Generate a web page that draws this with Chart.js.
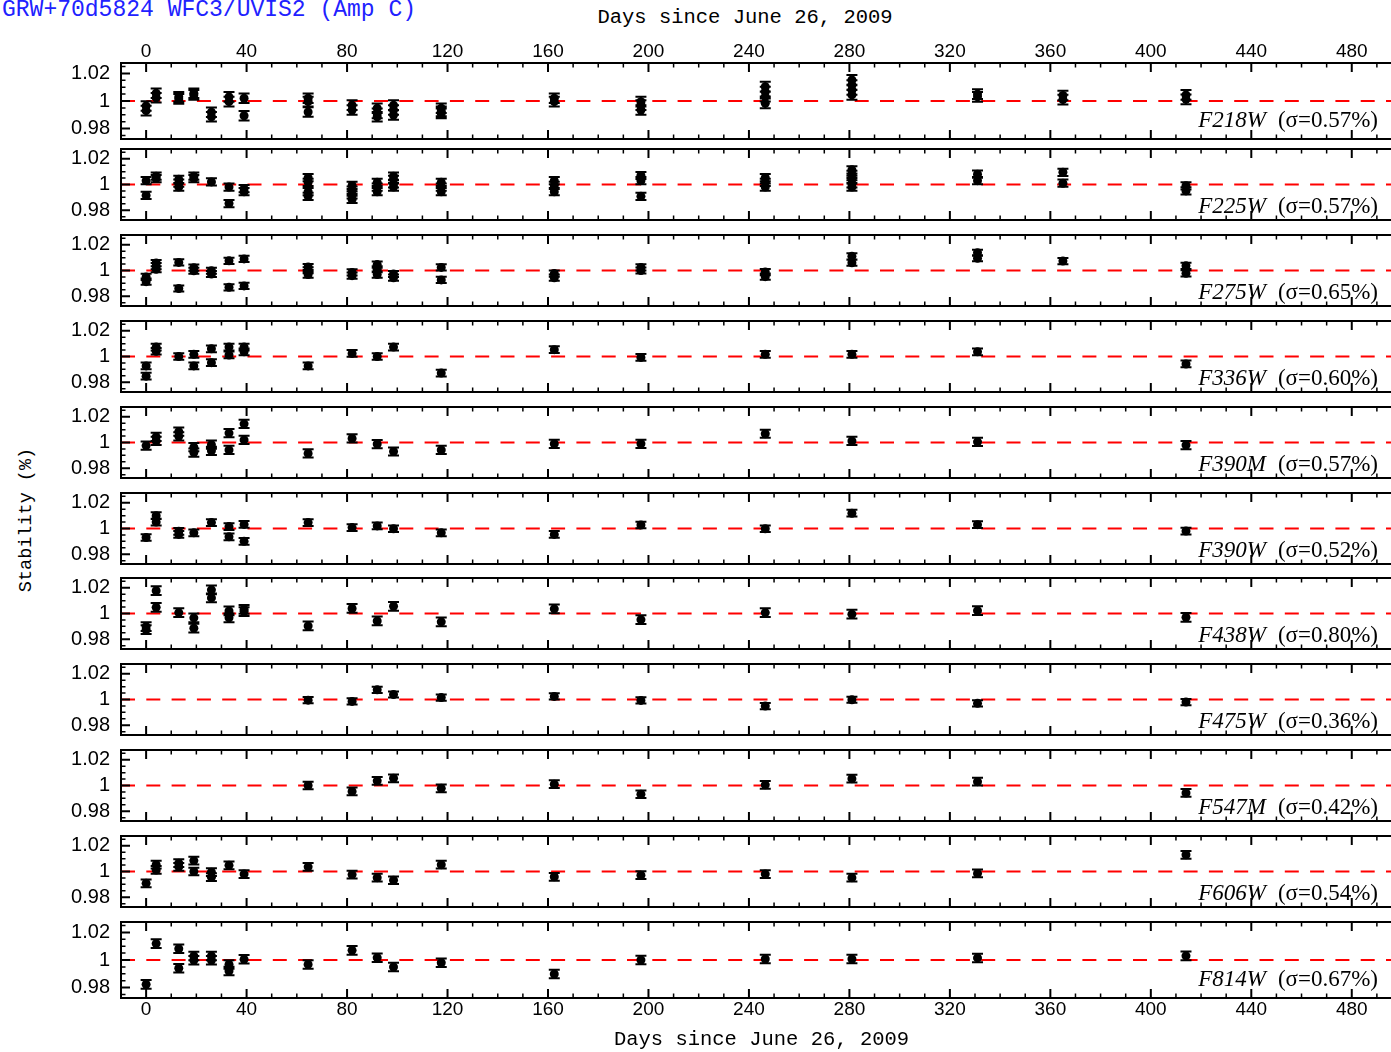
<!DOCTYPE html>
<html>
<head>
<meta charset="utf-8">
<title>GRW+70d5824 WFC3/UVIS2 (Amp C)</title>
<script src="https://cdn.jsdelivr.net/npm/chart.js@4.4.1/dist/chart.umd.min.js"></script>
<style>
  html, body { margin: 0; padding: 0; background: #fff; }
  body { width: 1391px; height: 1052px; overflow: hidden; position: relative; }
  canvas.panel { position: absolute; left: 0; }
  .txt { position: absolute; white-space: nowrap; color: #000; }
  #mainTitle { left: 2px; top: -1px; font: 23px 'Liberation Mono', monospace; line-height: 23px; color: #2121ff; }
  #topTitle { left: 745px; top: 6px; transform: translateX(-50%); font: 20.5px 'Liberation Mono', monospace; line-height: 24px; }
  #yTitle { left: 27px; top: 520px; transform: translate(-50%, -50%) rotate(-90deg); font: 18.5px 'Liberation Mono', monospace; line-height: 22px; }
  .filterLabel { right: 13px; font: 23px 'Liberation Serif', serif; line-height: 23px; transform: translateY(-50%); z-index: 2; }
  .filterLabel i { margin-right: 12px; }
</style>
</head>
<body>
<div class="txt" id="mainTitle">GRW+70d5824 WFC3/UVIS2 (Amp C)</div>
<div class="txt" id="topTitle">Days since June 26, 2009</div>
<div class="txt" id="yTitle">Stability (%)</div>
<script>
// filtres, sigma affichés et barre d'erreur typique de chaque filtre
const filterNames = ['F218W', 'F225W', 'F275W', 'F336W', 'F390M', 'F390W', 'F438W', 'F475W', 'F547M', 'F606W', 'F814W'];
const filterSigmas = ['0.57', '0.57', '0.65', '0.60', '0.57', '0.52', '0.80', '0.36', '0.42', '0.54', '0.67'];
const filterErrors = [0.0035, 0.0028, 0.0024, 0.0026, 0.0032, 0.0026, 0.0034, 0.0024, 0.003, 0.003, 0.0031];

const xTickValues = [0, 40, 80, 120, 160, 200, 240, 280, 320, 360, 400, 440, 480];
const yTickValues = [0.98, 1, 1.02];
const yTickLabels = ['0.98', '1', '1.02'];

// données (jours, stabilité)
const f218wDays = [0, 0, 4, 4, 13, 13, 19, 19, 26, 26, 33, 33, 39, 39, 64.5, 64.5, 64.5, 82, 82, 92, 92, 92, 98.5, 98.5, 98.5, 117.5, 117.5, 117.5, 162.5, 162.5, 197, 197, 197, 246.5, 246.5, 246.5, 246.5, 281, 281, 281, 281, 331, 331, 365, 365, 414, 414];
const f218wStability = [0.9964, 0.993, 1.0056, 1.0024, 1.003, 1.0015, 1.0056, 1.0044, 0.9918, 0.9886, 1.003, 0.9995, 1.002, 0.9893, 1.002, 0.9995, 0.992, 0.997, 0.9935, 0.9947, 0.991, 0.9886, 0.997, 0.9935, 0.9898, 0.9947, 0.991, 0.9925, 1.002, 0.9995, 0.9995, 0.997, 0.9935, 1.0104, 1.0068, 1.0032, 0.9983, 1.0153, 1.0116, 1.008, 1.0044, 1.005, 1.003, 1.004, 1.001, 1.0044, 1.0012];

const f225wDays = [0, 0, 4, 4, 13, 13, 13, 19, 19, 26, 33, 33, 39, 39, 64.5, 64.5, 64.5, 64.5, 82, 82, 82, 82, 92, 92, 92, 98.5, 98.5, 98.5, 98.5, 117.5, 117.5, 117.5, 162.5, 162.5, 162.5, 197, 197, 197, 246.5, 246.5, 246.5, 281, 281, 281, 281, 281, 331, 331, 365, 365, 414, 414];
const f225wStability = [1.003, 0.9915, 1.0065, 1.0046, 1.004, 1.001, 0.998, 1.0065, 1.0046, 1.002, 0.998, 0.9852, 0.9968, 0.9944, 1.0053, 1.0017, 0.9944, 0.9908, 0.9993, 0.9956, 0.992, 0.9884, 1.0017, 0.998, 0.9944, 1.0065, 1.004, 1.0005, 0.998, 1.0017, 0.998, 0.9944, 1.003, 0.9993, 0.9944, 1.007, 1.003, 0.9908, 1.0053, 1.0017, 0.998, 1.0114, 1.0078, 1.004, 1.0005, 0.998, 1.008, 1.003, 1.0095, 1.001, 0.999, 0.995];

const f275wDays = [0, 0, 4, 4, 4, 13, 13, 19, 19, 26, 26, 33, 33, 39, 39, 64.5, 64.5, 64.5, 82, 82, 92, 92, 92, 98.5, 98.5, 117.5, 117.5, 162.5, 162.5, 197, 197, 246.5, 246.5, 281, 281, 331, 331, 365, 414, 414];
const f275wStability = [0.995, 0.9913, 1.0058, 1.0034, 1.001, 1.0063, 0.986, 1.0022, 0.9998, 0.9998, 0.9973, 1.0075, 0.9869, 1.009, 0.988, 1.0027, 1.0002, 0.9968, 0.9985, 0.996, 1.0046, 1.001, 0.9968, 0.9973, 0.9944, 1.0024, 0.9927, 0.9976, 0.9944, 1.0024, 1.0, 0.9988, 0.9952, 1.011, 1.006, 1.0138, 1.0095, 1.0073, 1.0036, 0.9978];

const f336wDays = [0, 0, 4, 4, 13, 19, 19, 26, 26, 33, 33, 39, 39, 64.5, 82, 92, 98.5, 117.5, 162.5, 197, 246.5, 281, 331, 414];
const f336wStability = [0.9927, 0.9847, 1.0073, 1.0041, 1.0, 1.0017, 0.9927, 1.006, 0.9952, 1.0073, 1.0012, 1.0073, 1.0036, 0.9927, 1.0024, 1.0, 1.0073, 0.9871, 1.0053, 0.9993, 1.0017, 1.0017, 1.0036, 0.9942];

const f390mDays = [0, 4, 4, 13, 13, 19, 19, 26, 26, 33, 33, 39, 39, 64.5, 82, 92, 98.5, 117.5, 162.5, 197, 246.5, 281, 331, 414];
const f390mStability = [0.9976, 1.0044, 1.0012, 1.0085, 1.0048, 0.9964, 0.9922, 0.9983, 0.9935, 1.0073, 0.9942, 1.0145, 1.002, 0.9915, 1.0032, 0.9988, 0.993, 0.9942, 0.999, 0.999, 1.0068, 1.0012, 1.0005, 0.998];

const f390wDays = [0, 4, 4, 13, 13, 19, 26, 33, 33, 39, 39, 64.5, 82, 92, 98.5, 117.5, 162.5, 197, 246.5, 281, 331, 414];
const f390wStability = [0.993, 1.01, 1.005, 0.9978, 0.9954, 0.9966, 1.0046, 1.0015, 0.9935, 1.0032, 0.99, 1.0046, 1.0007, 1.002, 0.9998, 0.9966, 0.9954, 1.0027, 0.9998, 1.0119, 1.003, 0.998];

const f438wDays = [0, 0, 4, 4, 13, 19, 19, 26, 26, 33, 33, 39, 39, 64.5, 82, 92, 98.5, 117.5, 162.5, 197, 246.5, 281, 331, 414];
const f438wStability = [0.9898, 0.9874, 1.0177, 1.0048, 1.0007, 0.9966, 0.9886, 1.0184, 1.0121, 1.002, 0.9966, 1.0032, 1.0015, 0.9903, 1.0039, 0.9942, 1.0056, 0.9935, 1.0036, 0.9952, 1.0007, 0.9995, 1.0022, 0.997];

const f475wDays = [64.5, 82, 92, 98.5, 117.5, 162.5, 197, 246.5, 281, 331, 414];
const f475wStability = [0.9995, 0.9985, 1.0075, 1.0039, 1.0015, 1.0024, 0.9993, 0.9949, 0.9998, 0.997, 0.998];

const f547mDays = [64.5, 82, 92, 98.5, 117.5, 162.5, 197, 246.5, 281, 331, 414];
const f547mStability = [1.0, 0.9954, 1.0036, 1.0056, 0.9978, 1.001, 0.9932, 1.0005, 1.0053, 1.003, 0.9942];

const f606wDays = [0, 4, 4, 13, 13, 19, 19, 26, 26, 33, 39, 64.5, 82, 92, 98.5, 117.5, 162.5, 197, 246.5, 281, 331, 414];
const f606wStability = [0.9908, 1.0053, 1.0012, 1.0065, 1.0036, 1.0085, 1.0, 0.9995, 0.9956, 1.0048, 0.998, 1.0036, 0.9976, 0.9952, 0.9932, 1.0053, 0.9959, 0.9971, 0.998, 0.9952, 0.9985, 1.013];

const f814wDays = [0, 4, 13, 13, 19, 19, 26, 26, 33, 33, 39, 64.5, 82, 92, 98.5, 117.5, 162.5, 197, 246.5, 281, 331, 414];
const f814wStability = [0.9823, 1.0119, 1.0082, 0.994, 1.0029, 0.9998, 1.0029, 0.9998, 0.9968, 0.992, 1.0005, 0.9968, 1.007, 1.0017, 0.9949, 0.998, 0.9898, 1.0, 1.0007, 1.0007, 1.0015, 1.003];

const panelDays = [f218wDays, f225wDays, f275wDays, f336wDays, f390mDays, f390wDays, f438wDays, f475wDays, f547mDays, f606wDays, f814wDays];
const panelStability = [f218wStability, f225wStability, f275wStability, f336wStability, f390mStability, f390wStability, f438wStability, f475wStability, f547mStability, f606wStability, f814wStability];

// mise en page
const PAGE_H = 1052;
const CANVAS_W = 1410;
const PLOT_LEFT = 121;
const PLOT_RIGHT = 1402;
const PANEL_TOP = 63;
const PANEL_PITCH = 85.9;
const PANEL_H = 76;
const EDGE = 5;
const X_MIN = -10, X_MAX = 500;
const Y_MIN = 0.9724, Y_MAX = 1.0276;

Chart.defaults.color = '#000';
Chart.defaults.font.family = "'Liberation Sans', sans-serif";

// barres d'erreur avec petits chapeaux
const errorBars = {
    id: 'errorBars',
    afterDatasetsDraw(chart) {
        const {ctx, scales: {x, y}} = chart;
        ctx.save();
        ctx.strokeStyle = '#000';
        ctx.lineWidth = 2;
        chart.data.datasets.forEach(ds => {
            if (!ds.errorBar) return;
            ctx.beginPath();
            ds.data.forEach(p => {
                const px = x.getPixelForValue(p.x);
                const top = y.getPixelForValue(p.y + ds.errorBar);
                const bottom = y.getPixelForValue(p.y - ds.errorBar);
                ctx.moveTo(px, top); ctx.lineTo(px, bottom);
                ctx.moveTo(px - 5.5, top); ctx.lineTo(px + 5.5, top);
                ctx.moveTo(px - 5.5, bottom); ctx.lineTo(px + 5.5, bottom);
            });
            ctx.stroke();
        });
        ctx.restore();
    }
};

// cadre du panneau et graduations vers l'intérieur
const panelFrame = {
    id: 'panelFrame',
    afterDraw(chart) {
        const {ctx, chartArea: a, scales: {x, y}} = chart;
        ctx.save();
        ctx.strokeStyle = '#000';

        for (let d = 0; d < X_MAX; d += 10) {
            const px = x.getPixelForValue(d);
            const major = d % 40 === 0;
            const len = major ? 9 : 4.5;
            ctx.lineWidth = major ? 2 : 1.5;
            ctx.beginPath();
            ctx.moveTo(px, a.top); ctx.lineTo(px, a.top + len);
            ctx.moveTo(px, a.bottom); ctx.lineTo(px, a.bottom - len);
            ctx.stroke();
        }

        for (let k = -5; k <= 5; k++) {
            const py = y.getPixelForValue(1 + k * 0.005);
            const major = k === 0 || Math.abs(k) === 4;
            const len = major ? 9 : 4.5;
            ctx.lineWidth = major ? 2 : 1.5;
            ctx.beginPath();
            ctx.moveTo(a.left, py); ctx.lineTo(a.left + len, py);
            ctx.moveTo(a.right, py); ctx.lineTo(a.right - len, py);
            ctx.stroke();
        }

        ctx.lineWidth = 2;
        ctx.strokeRect(a.left, a.top, a.right - a.left, a.bottom - a.top);
        ctx.restore();
    }
};

filterNames.forEach((name, i) => {
    const areaTop = Math.round(PANEL_TOP + i * PANEL_PITCH);
    const isTop = i === 0;
    const isBottom = i === filterNames.length - 1;
    const canvasTop = isTop ? 0 : areaTop - EDGE;
    const canvasBottom = isBottom ? PAGE_H : areaTop + PANEL_H + EDGE;

    const canvas = document.createElement('canvas');
    canvas.className = 'panel';
    canvas.width = CANVAS_W;
    canvas.height = canvasBottom - canvasTop;
    canvas.style.top = canvasTop + 'px';
    document.body.appendChild(canvas);

    const points = panelDays[i].map((d, j) => ({x: d, y: panelStability[i][j]}));

    new Chart(canvas, {
        type: 'scatter',
        data: {
            datasets: [{
                type: 'scatter',
                data: points,
                backgroundColor: '#000',
                borderWidth: 0,
                pointRadius: 4.5,
                pointHoverRadius: 4.5,
                errorBar: filterErrors[i],
                order: 1
            }, {
                type: 'line',
                data: [{x: X_MIN, y: 1}, {x: X_MAX, y: 1}],
                borderColor: '#ff0000',
                borderWidth: 2,
                borderDash: [14, 11.3],
                pointRadius: 0,
                order: 2
            }]
        },
        options: {
            responsive: false,
            animation: false,
            events: [],
            layout: {
                padding: {top: isTop ? 0 : EDGE, bottom: isBottom ? 0 : EDGE, left: 0, right: CANVAS_W - PLOT_RIGHT}
            },
            plugins: {
                legend: {display: false},
                tooltip: {enabled: false}
            },
            scales: {
                x: {
                    type: 'linear',
                    min: X_MIN,
                    max: X_MAX,
                    position: isTop ? 'top' : 'bottom',
                    display: isTop || isBottom,
                    grid: {display: false, drawTicks: false},
                    border: {display: false},
                    ticks: {
                        padding: 0,
                        font: {size: 19},
                        autoSkip: false,
                        maxRotation: 0
                    },
                    title: {
                        display: isBottom,
                        text: 'Days since June 26, 2009',
                        font: {family: "'Liberation Mono', monospace", size: 20.5},
                        padding: {top: 0, bottom: 0}
                    },
                    afterBuildTicks: s => { s.ticks = xTickValues.map(v => ({value: v})); },
                    afterFit: s => {
                        s.height = isTop ? areaTop : canvasBottom - (areaTop + PANEL_H);
                        s.paddingLeft = 0;
                        s.paddingRight = 0;
                    }
                },
                y: {
                    type: 'linear',
                    min: Y_MIN,
                    max: Y_MAX,
                    grid: {display: false, drawTicks: false},
                    border: {display: false},
                    ticks: {
                        padding: 11,
                        font: {size: 20},
                        callback: (v, idx) => yTickLabels[idx]
                    },
                    afterBuildTicks: s => { s.ticks = yTickValues.map(v => ({value: v})); },
                    afterFit: s => {
                        s.width = PLOT_LEFT;
                        s.paddingTop = 0;
                        s.paddingBottom = 0;
                    }
                }
            }
        },
        plugins: [errorBars, panelFrame]
    });

    const label = document.createElement('div');
    label.className = 'txt filterLabel';
    label.style.top = (areaTop + 56) + 'px';
    label.innerHTML = '<i>' + name + '</i>(σ=' + filterSigmas[i] + '%)';
    document.body.appendChild(label);
});
</script>
</body>
</html>
